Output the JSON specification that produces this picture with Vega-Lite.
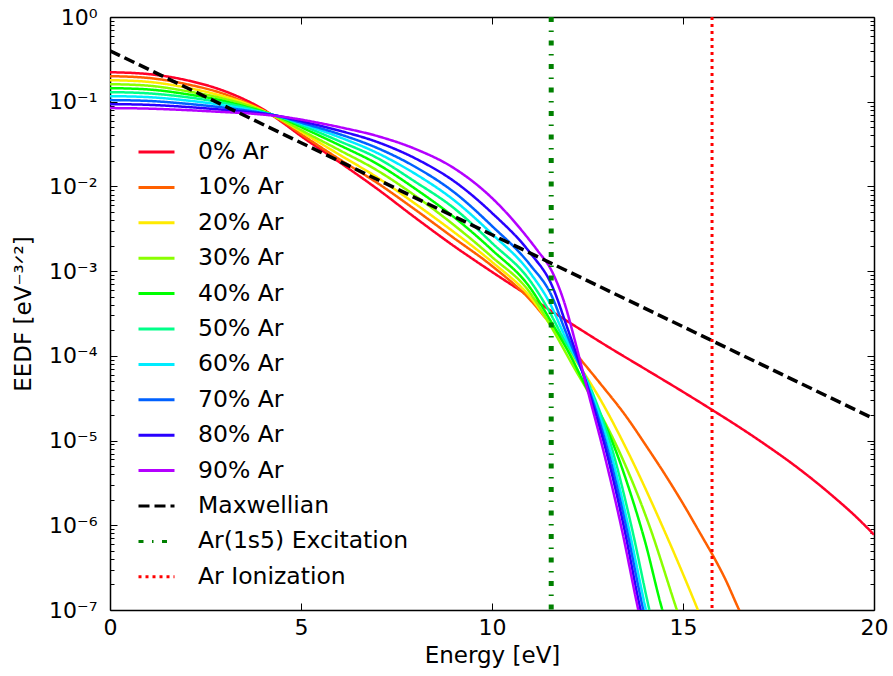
{
  "$schema": "https://vega.github.io/schema/vega-lite/v6.json",
  "autosize": "none",
  "width": 764,
  "height": 593,
  "padding": {"left": 110, "top": 17, "right": 19, "bottom": 66},
  "background": "white",
  "config": {
    "font": "DejaVu Sans",
    "view": {"stroke": null},
    "axis": {
      "grid": false,
      "domainColor": "#000000",
      "domainWidth": 1.5,
      "tickColor": "#000000",
      "tickWidth": 1,
      "labelColor": "#000000",
      "titleColor": "#000000",
      "labelFont": "DejaVu Sans",
      "titleFont": "DejaVu Sans",
      "labelFontSize": 22,
      "titleFontSize": 23,
      "titleFontWeight": "normal",
      "labelFlush": false,
      "labelOverlap": false,
      "labelBound": false
    },
    "legend": {
      "orient": "none",
      "legendX": 27,
      "legendY": 115.5,
      "padding": 0,
      "symbolType": "stroke",
      "symbolSize": 1296,
      "symbolStrokeWidth": 3,
      "rowPadding": 4.4,
      "labelOffset": 22,
      "labelFont": "DejaVu Sans",
      "labelFontSize": 23.5,
      "labelColor": "#000000",
      "labelLimit": 400
    }
  },
  "datasets": {
    "curves": [
      {"series": "0% Ar", "E": 0, "f": 0.223}, {"series": "0% Ar", "E": 1, "f": 0.212}, {"series": "0% Ar", "E": 2, "f": 0.1797}, {"series": "0% Ar", "E": 3, "f": 0.1334}, {"series": "0% Ar", "E": 3.5, "f": 0.1073}, {"series": "0% Ar", "E": 4, "f": 0.0818}, {"series": "0% Ar", "E": 4.5, "f": 0.0575}, {"series": "0% Ar", "E": 5, "f": 0.0393}, {"series": "0% Ar", "E": 6, "f": 0.0194}, {"series": "0% Ar", "E": 7, "f": 0.00932}, {"series": "0% Ar", "E": 8, "f": 0.00424}, {"series": "0% Ar", "E": 9, "f": 0.001982}, {"series": "0% Ar", "E": 10, "f": 0.000979}, {"series": "0% Ar", "E": 11, "f": 0.000496}, {"series": "0% Ar", "E": 11.55, "f": 0.000339}, {"series": "0% Ar", "E": 12, "f": 0.000252}, {"series": "0% Ar", "E": 13, "f": 0.0001312}, {"series": "0% Ar", "E": 14, "f": 0.0000703}, {"series": "0% Ar", "E": 15, "f": 0.0000376}, {"series": "0% Ar", "E": 15.8, "f": 0.00002246}, {"series": "0% Ar", "E": 16.5, "f": 0.00001415}, {"series": "0% Ar", "E": 17.2, "f": 0.00000868}, {"series": "0% Ar", "E": 18, "f": 0.00000478}, {"series": "0% Ar", "E": 18.5, "f": 0.00000318}, {"series": "0% Ar", "E": 19, "f": 0.00000206}, {"series": "0% Ar", "E": 19.5, "f": 0.000001298}, {"series": "0% Ar", "E": 20, "f": 7.75e-7},

      {"series": "10% Ar", "E": 0, "f": 0.2004}, {"series": "10% Ar", "E": 1, "f": 0.1909}, {"series": "10% Ar", "E": 2, "f": 0.1612}, {"series": "10% Ar", "E": 3, "f": 0.1229}, {"series": "10% Ar", "E": 3.5, "f": 0.1003}, {"series": "10% Ar", "E": 4, "f": 0.0796}, {"series": "10% Ar", "E": 4.5, "f": 0.059}, {"series": "10% Ar", "E": 5, "f": 0.0415}, {"series": "10% Ar", "E": 6, "f": 0.021}, {"series": "10% Ar", "E": 7, "f": 0.01097}, {"series": "10% Ar", "E": 8, "f": 0.00527}, {"series": "10% Ar", "E": 9, "f": 0.002463}, {"series": "10% Ar", "E": 10, "f": 0.001152}, {"series": "10% Ar", "E": 11, "f": 0.000458}, {"series": "10% Ar", "E": 11.55, "f": 0.000232}, {"series": "10% Ar", "E": 12.24, "f": 0.0001}, {"series": "10% Ar", "E": 12.84, "f": 0.0000468}, {"series": "10% Ar", "E": 13.5, "f": 0.0000196}, {"series": "10% Ar", "E": 14.07, "f": 0.00000822}, {"series": "10% Ar", "E": 14.5, "f": 0.00000417}, {"series": "10% Ar", "E": 15, "f": 0.0000018}, {"series": "10% Ar", "E": 15.5, "f": 7.34e-7}, {"series": "10% Ar", "E": 15.8, "f": 4.26e-7}, {"series": "10% Ar", "E": 16.1, "f": 2.35e-7}, {"series": "10% Ar", "E": 16.47, "f": 1e-7}, {"series": "10% Ar", "E": 16.85, "f": 4.48e-8},

      {"series": "20% Ar", "E": 0, "f": 0.1797}, {"series": "20% Ar", "E": 1, "f": 0.1717}, {"series": "20% Ar", "E": 2, "f": 0.1467}, {"series": "20% Ar", "E": 3, "f": 0.1148}, {"series": "20% Ar", "E": 3.5, "f": 0.0976}, {"series": "20% Ar", "E": 4, "f": 0.0785}, {"series": "20% Ar", "E": 4.5, "f": 0.0607}, {"series": "20% Ar", "E": 5, "f": 0.0444}, {"series": "20% Ar", "E": 6, "f": 0.02378}, {"series": "20% Ar", "E": 7, "f": 0.01274}, {"series": "20% Ar", "E": 8, "f": 0.0062}, {"series": "20% Ar", "E": 9, "f": 0.0029}, {"series": "20% Ar", "E": 10, "f": 0.001284}, {"series": "20% Ar", "E": 11, "f": 0.000496}, {"series": "20% Ar", "E": 11.55, "f": 0.000226}, {"series": "20% Ar", "E": 12.49, "f": 0.000055}, {"series": "20% Ar", "E": 12.84, "f": 0.0000303}, {"series": "20% Ar", "E": 13.53, "f": 0.00000779}, {"series": "20% Ar", "E": 14.5, "f": 8.87e-7}, {"series": "20% Ar", "E": 15.39, "f": 1e-7}, {"series": "20% Ar", "E": 15.7, "f": 4.48e-8},

      {"series": "30% Ar", "E": 0, "f": 0.1612}, {"series": "30% Ar", "E": 1, "f": 0.1548}, {"series": "30% Ar", "E": 2, "f": 0.1334}, {"series": "30% Ar", "E": 3, "f": 0.1082}, {"series": "30% Ar", "E": 3.5, "f": 0.0937}, {"series": "30% Ar", "E": 4, "f": 0.0775}, {"series": "30% Ar", "E": 4.5, "f": 0.0615}, {"series": "30% Ar", "E": 5, "f": 0.0463}, {"series": "30% Ar", "E": 6, "f": 0.0269}, {"series": "30% Ar", "E": 7, "f": 0.0154}, {"series": "30% Ar", "E": 8, "f": 0.0077}, {"series": "30% Ar", "E": 9, "f": 0.00351}, {"series": "30% Ar", "E": 10, "f": 0.00147}, {"series": "30% Ar", "E": 11, "f": 0.000553}, {"series": "30% Ar", "E": 11.55, "f": 0.00022}, {"series": "30% Ar", "E": 12.1, "f": 0.0000794}, {"series": "30% Ar", "E": 12.71, "f": 0.0000264}, {"series": "30% Ar", "E": 13.31, "f": 0.00000779}, {"series": "30% Ar", "E": 14.1, "f": 0.000001044}, {"series": "30% Ar", "E": 14.84, "f": 1e-7}, {"series": "30% Ar", "E": 15.1, "f": 4.48e-8},

      {"series": "40% Ar", "E": 0, "f": 0.1447}, {"series": "40% Ar", "E": 1, "f": 0.1396}, {"series": "40% Ar", "E": 2, "f": 0.1229}, {"series": "40% Ar", "E": 3, "f": 0.1016}, {"series": "40% Ar", "E": 3.5, "f": 0.0887}, {"series": "40% Ar", "E": 4, "f": 0.0764}, {"series": "40% Ar", "E": 4.5, "f": 0.0641}, {"series": "40% Ar", "E": 5, "f": 0.0502}, {"series": "40% Ar", "E": 6, "f": 0.0308}, {"series": "40% Ar", "E": 7, "f": 0.01837}, {"series": "40% Ar", "E": 8, "f": 0.00932}, {"series": "40% Ar", "E": 9, "f": 0.00436}, {"series": "40% Ar", "E": 10, "f": 0.001778}, {"series": "40% Ar", "E": 11, "f": 0.000634}, {"series": "40% Ar", "E": 11.55, "f": 0.000252}, {"series": "40% Ar", "E": 12, "f": 0.0001115}, {"series": "40% Ar", "E": 12.5, "f": 0.0000397}, {"series": "40% Ar", "E": 12.9, "f": 0.0000176}, {"series": "40% Ar", "E": 13.25, "f": 0.00000738}, {"series": "40% Ar", "E": 13.6, "f": 0.00000259}, {"series": "40% Ar", "E": 14, "f": 6.58e-7}, {"series": "40% Ar", "E": 14.46, "f": 1e-7}, {"series": "40% Ar", "E": 14.7, "f": 4.48e-8},

      {"series": "50% Ar", "E": 0, "f": 0.1298}, {"series": "50% Ar", "E": 1, "f": 0.1256}, {"series": "50% Ar", "E": 2, "f": 0.1133}, {"series": "50% Ar", "E": 3, "f": 0.0963}, {"series": "50% Ar", "E": 3.5, "f": 0.0864}, {"series": "50% Ar", "E": 4, "f": 0.0754}, {"series": "50% Ar", "E": 4.5, "f": 0.0649}, {"series": "50% Ar", "E": 5, "f": 0.053}, {"series": "50% Ar", "E": 6, "f": 0.0343}, {"series": "50% Ar", "E": 7, "f": 0.0216}, {"series": "50% Ar", "E": 8, "f": 0.01127}, {"series": "50% Ar", "E": 9, "f": 0.00556}, {"series": "50% Ar", "E": 10, "f": 0.00215}, {"series": "50% Ar", "E": 11, "f": 0.000766}, {"series": "50% Ar", "E": 11.55, "f": 0.000304}, {"series": "50% Ar", "E": 11.75, "f": 0.000203}, {"series": "50% Ar", "E": 12.6, "f": 0.0000397}, {"series": "50% Ar", "E": 13.15, "f": 0.00000779}, {"series": "50% Ar", "E": 13.64, "f": 0.00000102}, {"series": "50% Ar", "E": 14.12, "f": 1e-7}, {"series": "50% Ar", "E": 14.3, "f": 4.48e-8},

      {"series": "60% Ar", "E": 0, "f": 0.1164}, {"series": "60% Ar", "E": 1, "f": 0.1133}, {"series": "60% Ar", "E": 2, "f": 0.1036}, {"series": "60% Ar", "E": 3, "f": 0.0905}, {"series": "60% Ar", "E": 3.5, "f": 0.0829}, {"series": "60% Ar", "E": 4, "f": 0.0744}, {"series": "60% Ar", "E": 4.5, "f": 0.0658}, {"series": "60% Ar", "E": 5, "f": 0.0552}, {"series": "60% Ar", "E": 6, "f": 0.0382}, {"series": "60% Ar", "E": 7, "f": 0.02477}, {"series": "60% Ar", "E": 8, "f": 0.014}, {"series": "60% Ar", "E": 9, "f": 0.00691}, {"series": "60% Ar", "E": 10, "f": 0.002746}, {"series": "60% Ar", "E": 11, "f": 0.000952}, {"series": "60% Ar", "E": 11.55, "f": 0.000389}, {"series": "60% Ar", "E": 11.83, "f": 0.000203}, {"series": "60% Ar", "E": 12.57, "f": 0.0000397}, {"series": "60% Ar", "E": 13.09, "f": 0.00000779}, {"series": "60% Ar", "E": 13.56, "f": 0.00000102}, {"series": "60% Ar", "E": 14.03, "f": 1e-7}, {"series": "60% Ar", "E": 14.21, "f": 4.48e-8},

      {"series": "70% Ar", "E": 0, "f": 0.1045}, {"series": "70% Ar", "E": 1, "f": 0.1022}, {"series": "70% Ar", "E": 2, "f": 0.0947}, {"series": "70% Ar", "E": 3, "f": 0.085}, {"series": "70% Ar", "E": 3.5, "f": 0.0796}, {"series": "70% Ar", "E": 4, "f": 0.0734}, {"series": "70% Ar", "E": 4.5, "f": 0.0658}, {"series": "70% Ar", "E": 5, "f": 0.0567}, {"series": "70% Ar", "E": 6, "f": 0.0415}, {"series": "70% Ar", "E": 7, "f": 0.02837}, {"series": "70% Ar", "E": 8, "f": 0.01693}, {"series": "70% Ar", "E": 9, "f": 0.00859}, {"series": "70% Ar", "E": 10, "f": 0.00341}, {"series": "70% Ar", "E": 11, "f": 0.001183}, {"series": "70% Ar", "E": 11.55, "f": 0.000524}, {"series": "70% Ar", "E": 11.91, "f": 0.000203}, {"series": "70% Ar", "E": 12.54, "f": 0.0000397}, {"series": "70% Ar", "E": 13.03, "f": 0.00000779}, {"series": "70% Ar", "E": 13.5, "f": 0.00000102}, {"series": "70% Ar", "E": 13.96, "f": 1e-7}, {"series": "70% Ar", "E": 14.14, "f": 4.48e-8},

      {"series": "80% Ar", "E": 0, "f": 0.0937}, {"series": "80% Ar", "E": 1, "f": 0.0919}, {"series": "80% Ar", "E": 2, "f": 0.0868}, {"series": "80% Ar", "E": 3, "f": 0.08}, {"series": "80% Ar", "E": 3.5, "f": 0.0764}, {"series": "80% Ar", "E": 4, "f": 0.0724}, {"series": "80% Ar", "E": 4.5, "f": 0.0667}, {"series": "80% Ar", "E": 5, "f": 0.059}, {"series": "80% Ar", "E": 6, "f": 0.0456}, {"series": "80% Ar", "E": 7, "f": 0.0334}, {"series": "80% Ar", "E": 8, "f": 0.02133}, {"series": "80% Ar", "E": 9, "f": 0.01158}, {"series": "80% Ar", "E": 10, "f": 0.00486}, {"series": "80% Ar", "E": 11, "f": 0.001639}, {"series": "80% Ar", "E": 11.55, "f": 0.000707}, {"series": "80% Ar", "E": 11.99, "f": 0.000203}, {"series": "80% Ar", "E": 12.52, "f": 0.0000397}, {"series": "80% Ar", "E": 12.98, "f": 0.00000779}, {"series": "80% Ar", "E": 13.44, "f": 0.00000102}, {"series": "80% Ar", "E": 13.89, "f": 1e-7}, {"series": "80% Ar", "E": 14.07, "f": 4.48e-8},

      {"series": "90% Ar", "E": 0, "f": 0.0841}, {"series": "90% Ar", "E": 1, "f": 0.0829}, {"series": "90% Ar", "E": 2, "f": 0.0796}, {"series": "90% Ar", "E": 3, "f": 0.0754}, {"series": "90% Ar", "E": 3.5, "f": 0.0734}, {"series": "90% Ar", "E": 4, "f": 0.0705}, {"series": "90% Ar", "E": 4.5, "f": 0.0667}, {"series": "90% Ar", "E": 5, "f": 0.0615}, {"series": "90% Ar", "E": 6, "f": 0.0502}, {"series": "90% Ar", "E": 7, "f": 0.0393}, {"series": "90% Ar", "E": 8, "f": 0.0276}, {"series": "90% Ar", "E": 9, "f": 0.01648}, {"series": "90% Ar", "E": 10, "f": 0.0073}, {"series": "90% Ar", "E": 11, "f": 0.00227}, {"series": "90% Ar", "E": 11.2, "f": 0.001731}, {"series": "90% Ar", "E": 11.55, "f": 0.001033}, {"series": "90% Ar", "E": 11.87, "f": 0.000458}, {"series": "90% Ar", "E": 12.22, "f": 0.0001243}, {"series": "90% Ar", "E": 12.5, "f": 0.0000397}, {"series": "90% Ar", "E": 12.91, "f": 0.00000779}, {"series": "90% Ar", "E": 13.4, "f": 8.87e-7}, {"series": "90% Ar", "E": 13.83, "f": 1e-7}, {"series": "90% Ar", "E": 14, "f": 4.48e-8}
    ],
    "maxwell": [
      {"series": "Maxwellian", "E": 0, "f": 0.399},
      {"series": "Maxwellian", "E": 5, "f": 0.0328},
      {"series": "Maxwellian", "E": 10, "f": 0.00269},
      {"series": "Maxwellian", "E": 15, "f": 0.000221},
      {"series": "Maxwellian", "E": 20, "f": 0.0000181}
    ],
    "thresholds": [
      {"series": "Ar(1s5) Excitation", "E": 11.55},
      {"series": "Ar Ionization", "E": 15.76}
    ]
  },
  "layer": [
    {
      "data": {"name": "curves"},
      "mark": {"type": "line", "clip": true, "interpolate": "monotone", "strokeWidth": 2.5},
      "encoding": {
        "x": {
          "field": "E", "type": "quantitative",
          "scale": {"domain": [0, 20], "nice": false, "zero": false},
          "axis": {"orient": "bottom", "values": [0, 5, 10, 15, 20], "tickSize": -7, "labelPadding": 14, "title": "Energy [eV]", "titlePadding": 6}
        },
        "y": {
          "field": "f", "type": "quantitative",
          "scale": {"type": "log", "domain": [1e-7, 1], "nice": false},
          "axis": {
            "orient": "left",
            "values": [1e-7, 2e-7, 3e-7, 4e-7, 5e-7, 6e-7, 7e-7, 8e-7, 9e-7, 1e-6, 2e-6, 3e-6, 4e-6, 5e-6, 6e-6, 7e-6, 8e-6, 9e-6, 1e-5, 2e-5, 3e-5, 4e-5, 5e-5, 6e-5, 7e-5, 8e-5, 9e-5, 1e-4, 2e-4, 3e-4, 4e-4, 5e-4, 6e-4, 7e-4, 8e-4, 9e-4, 1e-3, 2e-3, 3e-3, 4e-3, 5e-3, 6e-3, 7e-3, 8e-3, 9e-3, 1e-2, 2e-2, 3e-2, 4e-2, 5e-2, 6e-2, 7e-2, 8e-2, 9e-2, 1e-1, 2e-1, 3e-1, 4e-1, 5e-1, 6e-1, 7e-1, 8e-1, 9e-1, 1],
            "tickSize": {"condition": {"test": "abs(log(datum.value)/LN10 - round(log(datum.value)/LN10)) < 0.001", "value": -7}, "value": -4},
            "labelExpr": "abs(log(datum.value)/LN10 - round(log(datum.value)/LN10)) < 0.001 ? '10' + ['⁰','⁻¹','⁻²','⁻³','⁻⁴','⁻⁵','⁻⁶','⁻⁷'][-round(log(datum.value)/LN10)] : ''",
            "labelPadding": 20,
            "title": "EEDF [eV⁻³ᐟ²]",
            "titlePadding": 13
          }
        },
        "color": {
          "field": "series", "type": "nominal",
          "scale": {
            "domain": ["0% Ar", "10% Ar", "20% Ar", "30% Ar", "40% Ar", "50% Ar", "60% Ar", "70% Ar", "80% Ar", "90% Ar", "Maxwellian", "Ar(1s5) Excitation", "Ar Ionization"],
            "range": ["#ff0029", "#ff6000", "#ffea00", "#8aff00", "#00ff00", "#00ff89", "#00ecff", "#0061ff", "#2900ff", "#b400ff", "#000000", "#008000", "#ff0000"]
          },
          "legend": {"title": null}
        },
        "strokeDash": {
          "field": "series", "type": "nominal",
          "scale": {
            "domain": ["0% Ar", "10% Ar", "20% Ar", "30% Ar", "40% Ar", "50% Ar", "60% Ar", "70% Ar", "80% Ar", "90% Ar", "Maxwellian", "Ar(1s5) Excitation", "Ar Ionization"],
            "range": [[1, 0], [1, 0], [1, 0], [1, 0], [1, 0], [1, 0], [1, 0], [1, 0], [1, 0], [1, 0], [11, 5], [5, 8.5, 1.5, 8.5], [3, 4]]
          },
          "legend": {"title": null}
        }
      }
    },
    {
      "data": {"name": "maxwell"},
      "mark": {"type": "line", "clip": true, "strokeWidth": 3.5},
      "encoding": {
        "x": {
          "field": "E", "type": "quantitative",
          "axis": {"orient": "top", "values": [0, 5, 10, 15, 20], "tickSize": -7, "labels": false, "title": null}
        },
        "y": {
          "field": "f", "type": "quantitative",
          "axis": {
            "orient": "right",
            "values": [1e-7, 2e-7, 3e-7, 4e-7, 5e-7, 6e-7, 7e-7, 8e-7, 9e-7, 1e-6, 2e-6, 3e-6, 4e-6, 5e-6, 6e-6, 7e-6, 8e-6, 9e-6, 1e-5, 2e-5, 3e-5, 4e-5, 5e-5, 6e-5, 7e-5, 8e-5, 9e-5, 1e-4, 2e-4, 3e-4, 4e-4, 5e-4, 6e-4, 7e-4, 8e-4, 9e-4, 1e-3, 2e-3, 3e-3, 4e-3, 5e-3, 6e-3, 7e-3, 8e-3, 9e-3, 1e-2, 2e-2, 3e-2, 4e-2, 5e-2, 6e-2, 7e-2, 8e-2, 9e-2, 1e-1, 2e-1, 3e-1, 4e-1, 5e-1, 6e-1, 7e-1, 8e-1, 9e-1, 1],
            "tickSize": {"condition": {"test": "abs(log(datum.value)/LN10 - round(log(datum.value)/LN10)) < 0.001", "value": -7}, "value": -4},
            "labels": false,
            "title": null
          }
        },
        "color": {"field": "series", "type": "nominal"},
        "strokeDash": {"field": "series", "type": "nominal"}
      }
    },
    {
      "data": {"name": "thresholds"},
      "transform": [{"filter": "datum.series == 'Ar(1s5) Excitation'"}],
      "mark": {"type": "rule", "clip": true, "strokeWidth": 5},
      "encoding": {
        "x": {"field": "E", "type": "quantitative", "axis": null},
        "color": {"field": "series", "type": "nominal"},
        "strokeDash": {"field": "series", "type": "nominal"}
      }
    },
    {
      "data": {"name": "thresholds"},
      "transform": [{"filter": "datum.series == 'Ar Ionization'"}],
      "mark": {"type": "rule", "clip": true, "strokeWidth": 3},
      "encoding": {
        "x": {"field": "E", "type": "quantitative", "axis": null},
        "color": {"field": "series", "type": "nominal"},
        "strokeDash": {"field": "series", "type": "nominal"}
      }
    }
  ],
  "resolve": {"axis": {"x": "independent", "y": "independent"}}
}
